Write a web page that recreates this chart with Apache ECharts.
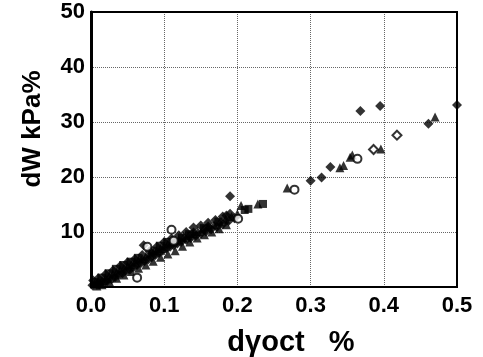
<!DOCTYPE html>
<html>
<head>
<meta charset="utf-8">
<script src="https://cdn.jsdelivr.net/npm/echarts@6/dist/echarts.min.js"></script>
<style>
  html, body { margin: 0; padding: 0; background: #fff; }
  #chart { width: 483px; height: 357px; }
</style>
</head>
<body>
<div id="chart"></div>
<script>
const xTicks = [0, 0.1, 0.2, 0.3, 0.4, 0.5]
const yTicks = [0, 10, 20, 30, 40, 50]

// dense band near the origin
const bandDiamonds = [
  [0.002, 0.3], [0.008, 0.4], [0.012, 0.5], [0.018, 0.8], [0.022, 1.1], [0.028, 1.4],
  [0.033, 1.8], [0.038, 2.2], [0.043, 2.5], [0.048, 2.9], [0.053, 3.2], [0.058, 3.6],
  [0.063, 4.0], [0.068, 4.3], [0.073, 4.7], [0.078, 5.0], [0.083, 5.4], [0.088, 5.8],
  [0.093, 6.2], [0.098, 6.6], [0.103, 7.0], [0.108, 7.3], [0.113, 7.6], [0.118, 7.9],
  [0.123, 8.2], [0.13, 8.6], [0.136, 8.9], [0.143, 9.3], [0.15, 9.7], [0.157, 10.1],
  [0.164, 10.5], [0.172, 10.9], [0.18, 11.4], [0.188, 12.0], [0.196, 12.5],
  [0.14, 9.9], [0.16, 11.0], [0.185, 13.0]
]
const bandTriangles = [
  [0.005, 0.6], [0.01, 1.0], [0.015, 1.2], [0.02, 1.6], [0.025, 2.0], [0.03, 2.3],
  [0.035, 2.7], [0.04, 3.1], [0.045, 3.4], [0.05, 3.8], [0.055, 4.1], [0.06, 4.5],
  [0.065, 4.9], [0.07, 5.2], [0.075, 5.6], [0.08, 6.0], [0.085, 6.3], [0.09, 6.6],
  [0.095, 7.0], [0.1, 7.4], [0.105, 7.8], [0.11, 8.1], [0.115, 8.4], [0.12, 8.6],
  [0.126, 8.9], [0.133, 9.3], [0.14, 9.7], [0.146, 10.1], [0.153, 10.5], [0.16, 10.9],
  [0.168, 11.3], [0.176, 11.8], [0.184, 12.3], [0.192, 12.8], [0.2, 13.3],
  [0.205, 14.8], [0.228, 15.1], [0.268, 18.0], [0.357, 24.0], [0.354, 23.6],
  [0.340, 21.7], [0.345, 22.1], [0.396, 25.1], [0.470, 30.9]
]
const bandSquares = [
  [0.004, 0.9], [0.014, 1.7], [0.024, 2.5], [0.034, 3.3], [0.044, 4.0], [0.054, 4.6],
  [0.064, 5.3], [0.084, 6.6], [0.094, 7.5], [0.104, 8.2], [0.124, 9.0], [0.134, 9.6],
  [0.154, 10.7], [0.174, 11.9], [0.21, 14.0], [0.215, 14.2], [0.235, 15.1]
]
const bandUpper = [
  [0.003, 1.2], [0.01, 1.6], [0.02, 2.3], [0.03, 3.0], [0.04, 3.8], [0.05, 4.5],
  [0.06, 5.1], [0.07, 5.8], [0.08, 6.5], [0.09, 7.3], [0.1, 8.2], [0.11, 8.8],
  [0.12, 9.4], [0.13, 10.0], [0.14, 10.8], [0.15, 11.2], [0.16, 11.7], [0.17, 12.2],
  [0.18, 12.8], [0.19, 13.3]
]
const bandLower = [
  [0.008, 0.2], [0.015, 0.4], [0.025, 1.0], [0.035, 1.6], [0.045, 2.2], [0.055, 2.8],
  [0.065, 3.4], [0.075, 4.0], [0.085, 4.7], [0.095, 5.4], [0.105, 6.0], [0.115, 6.6],
  [0.125, 7.4], [0.135, 8.2], [0.145, 8.9], [0.155, 9.5], [0.165, 10.0], [0.175, 10.6],
  [0.185, 11.3]
]
const outerDiamonds = [
  [0.072, 7.6], [0.190, 16.5], [0.300, 19.3], [0.315, 19.9], [0.327, 21.8],
  [0.368, 32.0], [0.395, 32.9], [0.461, 29.7], [0.5, 33.1]
]
const openDiamonds = [
  [0.386, 25.0], [0.418, 27.6]
]
const openCircles = [
  [0.063, 1.7], [0.077, 7.3], [0.110, 10.4], [0.113, 8.4], [0.201, 12.4],
  [0.278, 17.7], [0.364, 23.3]
]

const labelFont = { color: '#000', fontSize: 22, fontWeight: 'bold', fontFamily: '"Liberation Sans", Arial, sans-serif' }

const chart = echarts.init(document.getElementById('chart'))
chart.setOption({
  animation: false,
  backgroundColor: '#fff',
  grid: { left: 91, right: 26, top: 12, bottom: 70 },
  xAxis: {
    type: 'value',
    min: xTicks[0],
    max: xTicks[xTicks.length - 1],
    interval: 0.1,
    axisLine: { lineStyle: { color: '#000', width: 2 } },
    axisTick: { show: false },
    axisLabel: Object.assign({ margin: 8, formatter: v => v.toFixed(1) }, labelFont),
    splitLine: { lineStyle: { color: '#666', type: [1, 1], width: 1 } }
  },
  yAxis: {
    type: 'value',
    min: yTicks[0],
    max: yTicks[yTicks.length - 1],
    interval: 10,
    axisLine: { lineStyle: { color: '#000', width: 3 } },
    axisTick: { show: false },
    axisLabel: Object.assign({ margin: 6, padding: [11, 0, 0, 0], formatter: v => (v === 0 ? '' : String(v)) }, labelFont),
    splitLine: { lineStyle: { color: '#666', type: [1, 1], width: 1 } }
  },
  graphic: [
    {
      type: 'rect',
      shape: { x: 91, y: 12, width: 366, height: 275 },
      style: { fill: 'none', stroke: '#000', lineWidth: 2 },
      silent: true,
      z: 10
    },
    {
      type: 'text',
      x: 33, y: 129,
      rotation: Math.PI / 2,
      style: {
        text: 'dW kPa%', align: 'center', verticalAlign: 'middle',
        font: 'bold 26px "Liberation Sans", Arial, sans-serif', fill: '#000'
      }
    },
    {
      type: 'text',
      x: 291, y: 343,
      style: {
        text: 'dγoct   %', align: 'center', verticalAlign: 'middle',
        font: 'bold 29px "Liberation Sans", Arial, sans-serif', fill: '#000'
      }
    }
  ],
  series: [
    { type: 'scatter', data: bandUpper, symbol: 'diamond', symbolSize: 10, itemStyle: { color: '#000' } },
    { type: 'scatter', data: bandLower, symbol: 'triangle', symbolSize: 9, itemStyle: { color: '#000' } },
    { type: 'scatter', data: bandDiamonds, symbol: 'diamond', symbolSize: 10, itemStyle: { color: '#000' } },
    { type: 'scatter', data: bandTriangles, symbol: 'triangle', symbolSize: 9, itemStyle: { color: '#000' } },
    { type: 'scatter', data: bandSquares, symbol: 'rect', symbolSize: 8, itemStyle: { color: '#000' } },
    { type: 'scatter', data: outerDiamonds, symbol: 'diamond', symbolSize: 10, itemStyle: { color: '#000' } },
    { type: 'scatter', data: openDiamonds, symbol: 'diamond', symbolSize: 9, itemStyle: { color: '#fff', borderColor: '#000', borderWidth: 2 } },
    { type: 'scatter', data: openCircles, symbol: 'circle', symbolSize: 8, itemStyle: { color: '#fff', borderColor: '#000', borderWidth: 2 } }
  ]
})
</script>
</body>
</html>
